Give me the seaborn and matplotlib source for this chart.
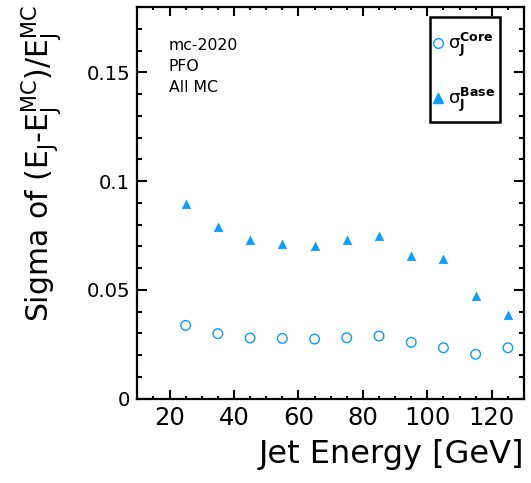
import numpy as np
import pandas as pd
import matplotlib
matplotlib.use("Agg")
import matplotlib.pyplot as plt
from matplotlib.ticker import MultipleLocator
from matplotlib.lines import Line2D
from matplotlib.patches import Rectangle
import seaborn as sns

energy = [25, 35, 45, 55, 65, 75, 85, 95, 105, 115, 125]
sigma_core = [0.0337, 0.0299, 0.0279, 0.0277, 0.0274, 0.0280, 0.0288, 0.0259, 0.0234, 0.0204, 0.0234]
sigma_base = [0.0896, 0.0790, 0.0727, 0.0709, 0.0704, 0.0730, 0.0746, 0.0657, 0.0642, 0.0472, 0.0386]
info_lines = ["mc-2020", "PFO", "All MC"]
core_label = r"$\sigma_{\mathbf{J}}^{\mathbf{Core}}$"
base_label = r"$\sigma_{\mathbf{J}}^{\mathbf{Base}}$"

sns.set_style("ticks")
plt.rcParams['font.family'] = ['DejaVu Sans']
plt.rcParams['mathtext.fontset'] = 'dejavusans'
plt.rcParams['mathtext.default'] = 'regular'
for k in ['text.color', 'axes.labelcolor', 'xtick.color', 'ytick.color', 'axes.edgecolor']:
    plt.rcParams[k] = 'black'

color = '#0a9cff'

df_core = pd.DataFrame({"E": energy, "sigma": sigma_core})
df_base = pd.DataFrame({"E": energy, "sigma": sigma_base})

W, H = 531, 483
fig = plt.figure(figsize=(W/100, H/100), dpi=100)
ax_l, ax_r, ax_b, ax_t = 137.3, 524, 398.7, 7
ax = fig.add_axes([ax_l/W, 1 - ax_b/H, (ax_r - ax_l)/W, (ax_b - ax_t)/H])

sns.scatterplot(data=df_core, x="E", y="sigma", ax=ax, marker='o', s=48,
                facecolors='none', edgecolor=color, linewidth=1.0, legend=False)
sns.scatterplot(data=df_base, x="E", y="sigma", ax=ax, marker='^', s=36,
                color=color, edgecolor=color, linewidth=0.5, legend=False)

ax.set_xlim(10, 130)
ax.set_ylim(0, 0.18)
ax.xaxis.set_major_locator(MultipleLocator(20))
ax.xaxis.set_minor_locator(MultipleLocator(5))
ax.yaxis.set_minor_locator(MultipleLocator(0.01))
ax.set_yticks([0, 0.05, 0.1, 0.15])
ax.set_yticklabels(["0", "0.05", "0.1", "0.15"])
ax.tick_params(which='both', direction='in', top=True, right=True, width=1.5)
ax.tick_params(axis='x', which='major', length=6.5, labelsize=17.5, pad=5)
ax.tick_params(axis='x', which='minor', length=2.5)
ax.tick_params(axis='y', which='major', length=7.5, labelsize=14.2, pad=5)
ax.tick_params(axis='y', which='minor', length=3.3)
for sp in ax.spines.values():
    sp.set_linewidth(1.6)
    sp.set_color('black')

ax.set_xlabel("Jet Energy [GeV]", fontsize=23, loc='right', labelpad=7)
ax.set_ylabel(r"Sigma of (E$_J$-E$_J^{MC}$)/E$_J^{MC}$", fontsize=21.5, loc='top')
ax.yaxis.set_label_coords((64 - ax_l)/(ax_r - ax_l), 1.005)

for i, t in enumerate(info_lines):
    fig.text(169/W, 1 - (45.5 + 21*i)/H, t, fontsize=11.3, va='center', ha='left')

# legend box
fig.patches.append(Rectangle((430/W, 1 - 122/H), (500 - 430)/W, (122 - 17)/H,
                             transform=fig.transFigure, fill=True, facecolor='white',
                             edgecolor='black', linewidth=1.8, zorder=5))
handles = [Line2D([], [], marker='o', linestyle='none', markerfacecolor='none',
                  markeredgecolor=color, markersize=7, markeredgewidth=1.0),
           Line2D([], [], marker='^', linestyle='none', color=color, markersize=6.5)]
leg = fig.legend(handles, [core_label, base_label], loc='center',
                 bbox_to_anchor=(464/W, 1 - 72.5/H), bbox_transform=fig.transFigure,
                 frameon=False, labelspacing=1.45, handlelength=0.6, handletextpad=0.25,
                 borderpad=0, borderaxespad=0, fontsize=13)
leg.set_zorder(6)

fig.savefig("out.png", dpi=100)
